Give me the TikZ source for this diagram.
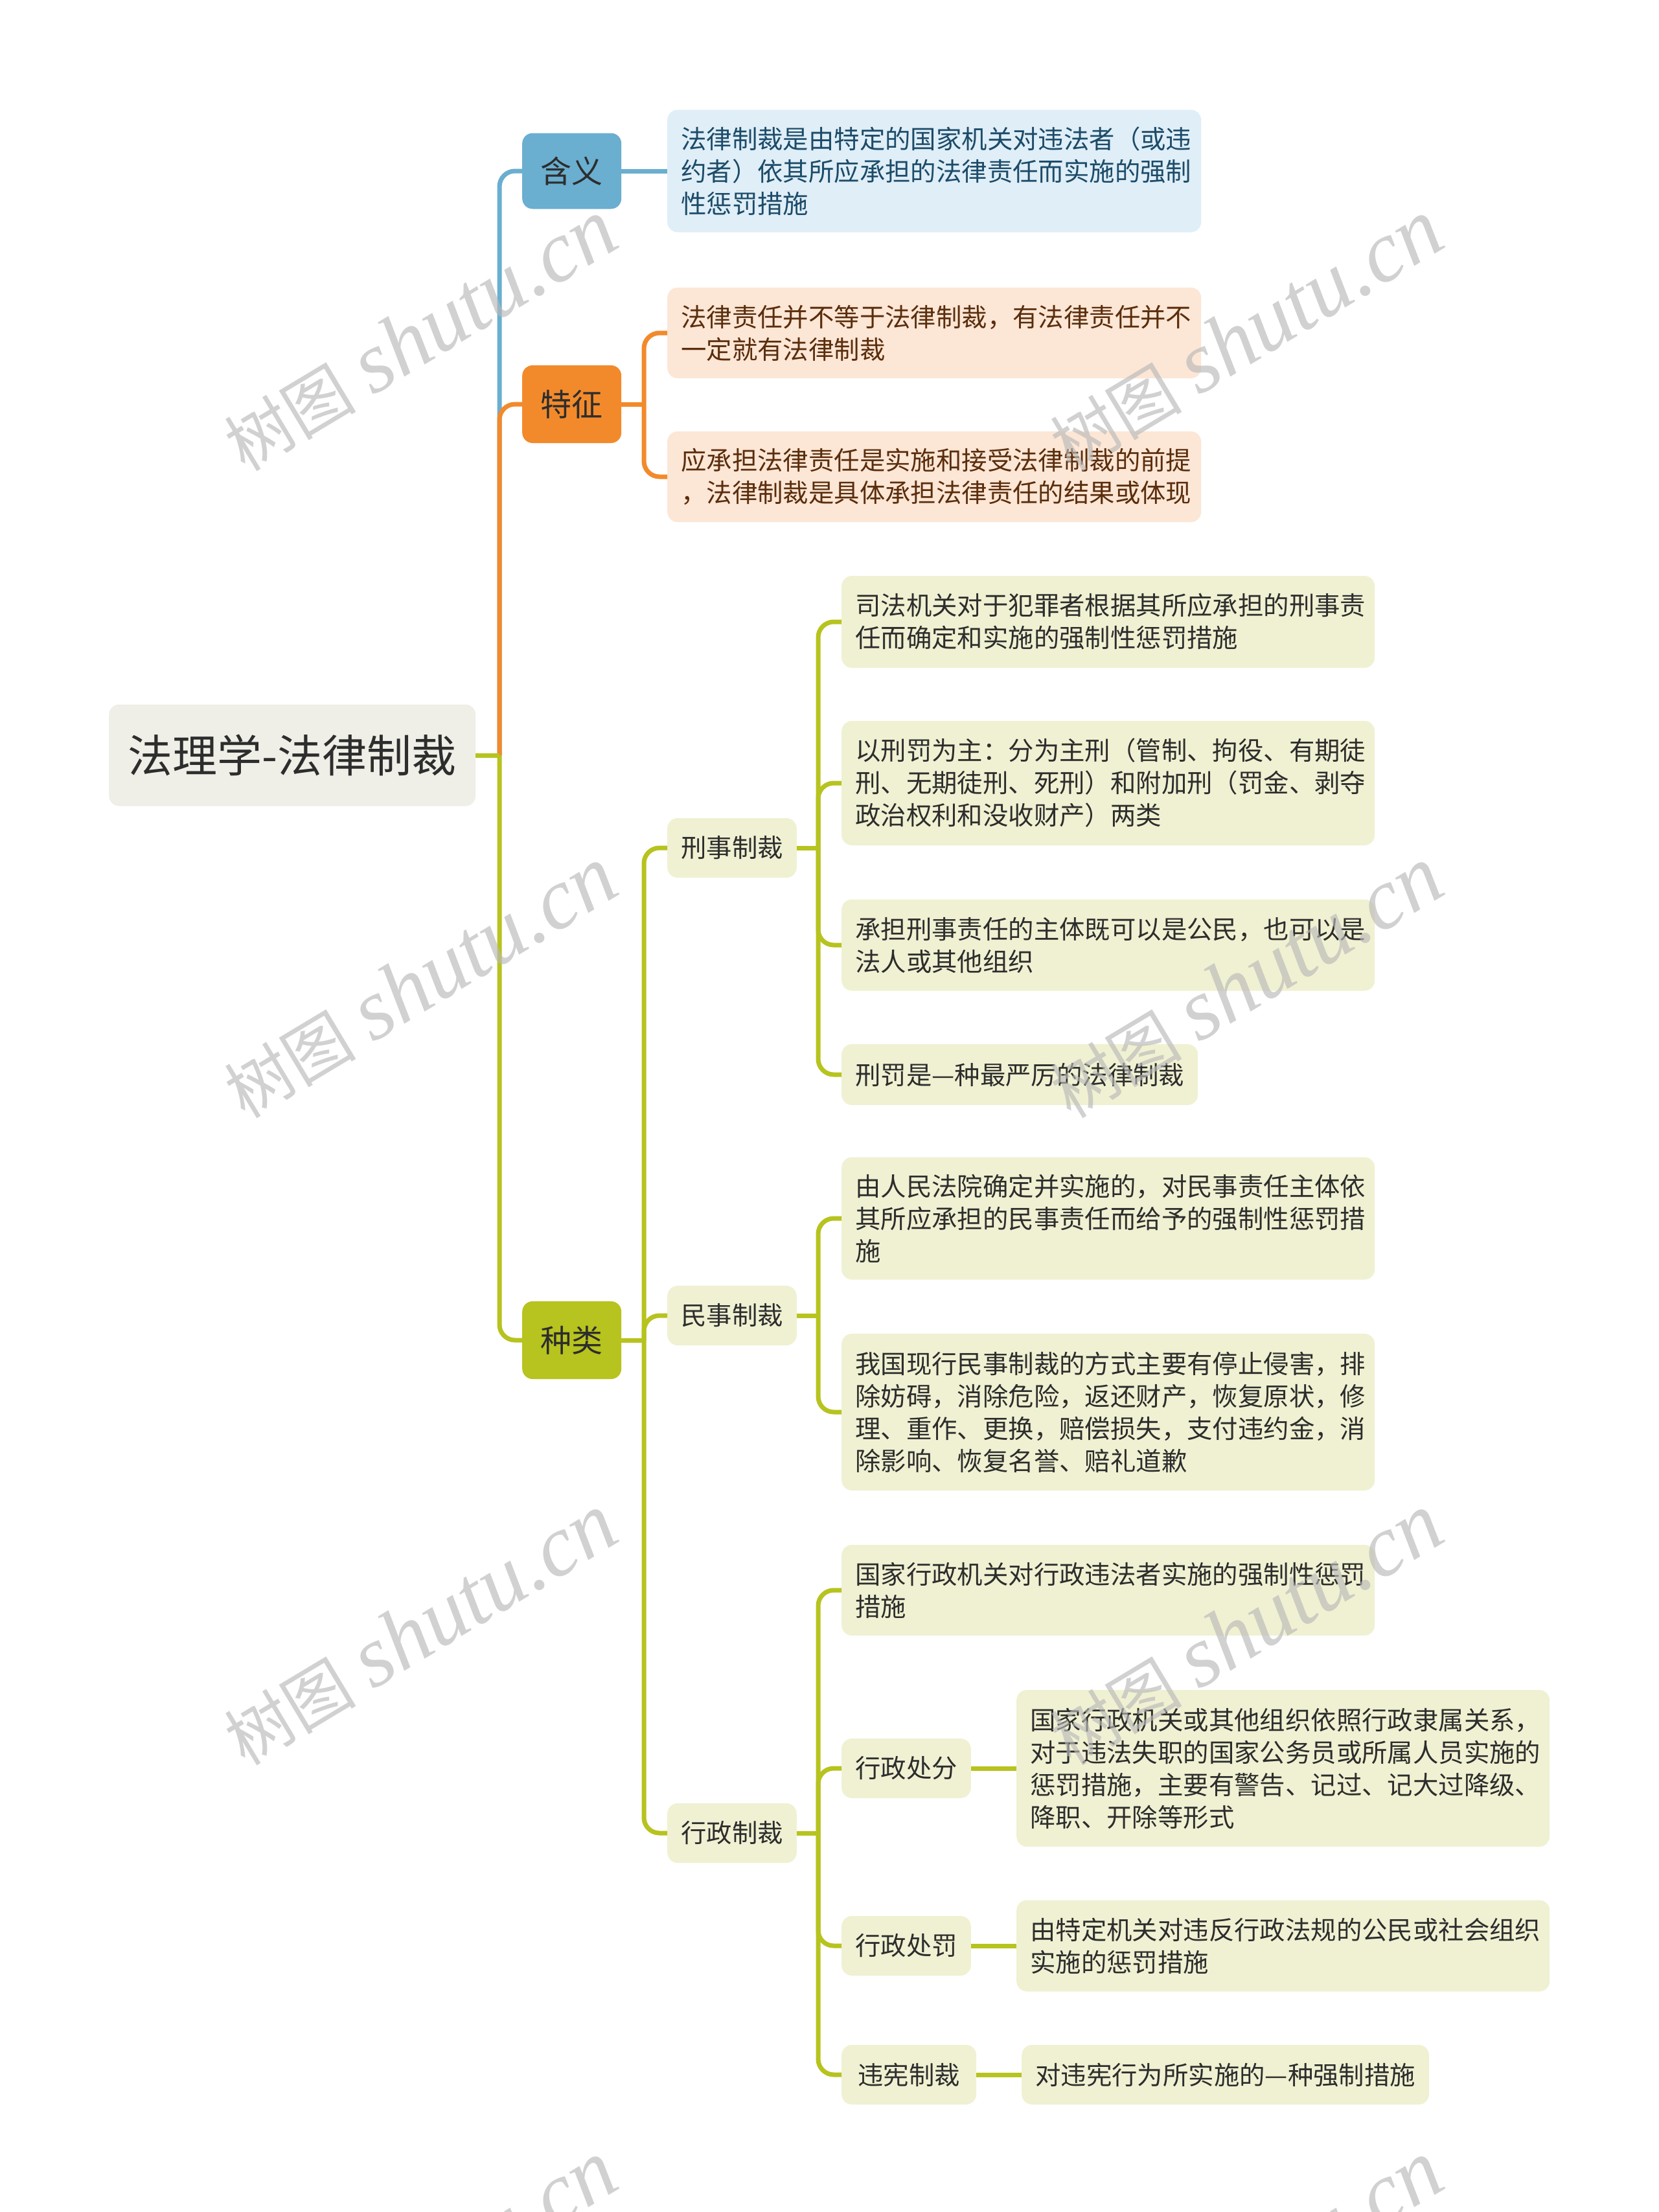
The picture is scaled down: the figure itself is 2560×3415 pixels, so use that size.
\documentclass[tikz,border=0pt]{standalone}
\usepackage{fontspec}
\setmainfont{Noto Sans CJK SC}
\newfontfamily\wmlatin{Liberation Serif}
\newfontfamily\wmcjk{Noto Sans CJK SC}
\definecolor{cblue}{RGB}{106,174,208}
\definecolor{corange}{RGB}{242,138,44}
\definecolor{cgreen}{RGB}{183,195,30}
\definecolor{fleaf}{RGB}{240,241,210}
\definecolor{froot}{RGB}{239,239,231}
\definecolor{fdef}{RGB}{223,238,247}
\definecolor{fpeach}{RGB}{252,230,213}
\definecolor{tdef}{RGB}{28,75,105}
\definecolor{tpeach}{RGB}{90,45,12}
\definecolor{tdark}{RGB}{45,45,45}
\definecolor{wmgray}{RGB}{185,185,185}
\tikzset{
  box/.style={rounded corners=16pt, anchor=west, inner xsep=21pt, inner ysep=0pt,
    align=left, font=\fontsize{39.4}{50}\selectfont, text=tdark},
  leaf/.style={box, fill=fleaf, text width=781pt},
  mid/.style={box, fill=fleaf, minimum height=92pt, align=center},
  lone/.style={box, minimum width=153pt, align=center, font=\fontsize{48}{56}\selectfont, text=tdark},
  con/.style={line width=7pt, rounded corners=24pt},
  wm/.style={text=wmgray, opacity=0.65, rotate=31, inner sep=0pt}
}
\begin{document}
\begin{tikzpicture}[x=1pt,y=-1pt]
\useasboundingbox (0,0) rectangle (2560,3415);
\fill[white] (0,0) rectangle (2560,3415);

% root
\node[box, fill=froot, minimum width=566pt, minimum height=157pt, align=center,
  font=\fontsize{69}{75}\selectfont] (root) at (168,1166) {法理学-法律制裁};

% level 1
\node[lone, fill=cblue, minimum height=117pt] (hanyi) at (806,264) {含义};
\node[lone, fill=corange, minimum height=120pt] (tezheng) at (806,624) {特征};
\node[lone, fill=cgreen, minimum height=120pt] (zhonglei) at (806,2069) {种类};

% 含义
\node[box, fill=fdef, text=tdef, text width=782pt, minimum height=189pt] (def) at (1030,264)
 {法律制裁是由特定的国家机关对违法者（或违\\约者）依其所应承担的法律责任而实施的强制\\性惩罚措施};

% 特征
\node[box, fill=fpeach, text=tpeach, text width=782pt, minimum height=140pt] (t1) at (1030,514)
 {法律责任并不等于法律制裁，有法律责任并不\\一定就有法律制裁};
\node[box, fill=fpeach, text=tpeach, text width=782pt, minimum height=140pt] (t2) at (1030,736)
 {应承担法律责任是实施和接受法律制裁的前提\\，法律制裁是具体承担法律责任的结果或体现};

% 种类 level 2
\node[mid, minimum width=199pt] (xs) at (1030,1309) {刑事制裁};
\node[mid, minimum width=199pt] (ms) at (1030,2031) {民事制裁};
\node[mid, minimum width=199pt] (xz) at (1030,2830) {行政制裁};

% 刑事
\node[leaf, minimum height=142pt] (x1) at (1299,960)
 {司法机关对于犯罪者根据其所应承担的刑事责\\任而确定和实施的强制性惩罚措施};
\node[leaf, minimum height=192pt] (x2) at (1299,1209)
 {以刑罚为主：分为主刑（管制、拘役、有期徒\\刑、无期徒刑、死刑）和附加刑（罚金、剥夺\\政治权利和没收财产）两类};
\node[leaf, minimum height=141pt] (x3) at (1299,1459)
 {承担刑事责任的主体既可以是公民，也可以是\\法人或其他组织};
\node[box, fill=fleaf, minimum height=94pt] (x4) at (1299,1659)
 {刑罚是—种最严厉的法律制裁};

% 民事
\node[leaf, minimum height=189pt] (m1) at (1299,1881)
 {由人民法院确定并实施的，对民事责任主体依\\其所应承担的民事责任而给予的强制性惩罚措\\施};
\node[leaf, minimum height=242pt] (m2) at (1299,2180)
 {我国现行民事制裁的方式主要有停止侵害，排\\除妨碍，消除危险，返还财产，恢复原状，修\\理、重作、更换，赔偿损失，支付违约金，消\\除影响、恢复名誉、赔礼道歉};

% 行政
\node[leaf, minimum height=140pt] (z1) at (1299,2455)
 {国家行政机关对行政违法者实施的强制性惩罚\\措施};
\node[mid, minimum width=198pt] (zf) at (1299,2730) {行政处分};
\node[leaf, minimum height=242pt] (zf1) at (1569,2730)
 {国家行政机关或其他组织依照行政隶属关系，\\对于违法失职的国家公务员或所属人员实施的\\惩罚措施，主要有警告、记过、记大过降级、\\降职、开除等形式};
\node[mid, minimum width=198pt] (zp) at (1299,3004) {行政处罚};
\node[leaf, minimum height=141pt] (zp1) at (1569,3004)
 {由特定机关对违反行政法规的公民或社会组织\\实施的惩罚措施};
\node[mid, minimum width=208pt] (wx) at (1299,3203) {违宪制裁};
\node[box, fill=fleaf, minimum height=92pt] (wx1) at (1577,3203)
 {对违宪行为所实施的—种强制措施};

% connectors: root
\coordinate (rj) at (771,1166);
\draw[con, cblue] (rj) |- (hanyi.west);
\draw[con, corange] (rj) |- (tezheng.west);
\draw[con, cgreen] (rj) |- (zhonglei.west);
\draw[con, cgreen] (root.east) -- (rj);

% 含义
\draw[con, cblue] (hanyi.east) -- (def.west);

% 特征
\coordinate (tj) at (994,624);
\draw[con, corange] (tezheng.east) -- (tj);
\draw[con, corange] (tj) |- (t1.west);
\draw[con, corange] (tj) |- (t2.west);

% 种类
\coordinate (zj) at (994,2069);
\draw[con, cgreen] (zhonglei.east) -- (zj);
\draw[con, cgreen] (zj) |- (xs.west);
\draw[con, cgreen] (zj) |- (ms.west);
\draw[con, cgreen] (zj) |- (xz.west);

% 刑事
\coordinate (xj) at (1263,1309);
\draw[con, cgreen] (xs.east) -- (xj);
\foreach \n in {x1,x2,x3,x4} \draw[con, cgreen] (xj) |- (\n.west);

% 民事
\coordinate (mj) at (1263,2031);
\draw[con, cgreen] (ms.east) -- (mj);
\foreach \n in {m1,m2} \draw[con, cgreen] (mj) |- (\n.west);

% 行政
\coordinate (zj2) at (1263,2830);
\draw[con, cgreen] (xz.east) -- (zj2);
\foreach \n in {z1,zf,zp,wx} \draw[con, cgreen] (zj2) |- (\n.west);
\draw[con, cgreen] (zf.east) -- (zf1.west);
\draw[con, cgreen] (zp.east) -- (zp1.west);
\draw[con, cgreen] (wx.east) -- (wx1.west);

% watermarks
\foreach \wx/\wy [count=\i] in {648/518,1923/518,648/1517,1923/1517,648/2516,1923/2516,648/3515,1923/3515}
  \node[wm] (wm\i) at (\wx,\wy) {{\wmcjk\fontsize{102}{104}\selectfont 树图}\hspace{26pt}{\wmlatin\itshape\fontsize{134}{136}\selectfont shutu.cn}};
\end{tikzpicture}
\end{document}
